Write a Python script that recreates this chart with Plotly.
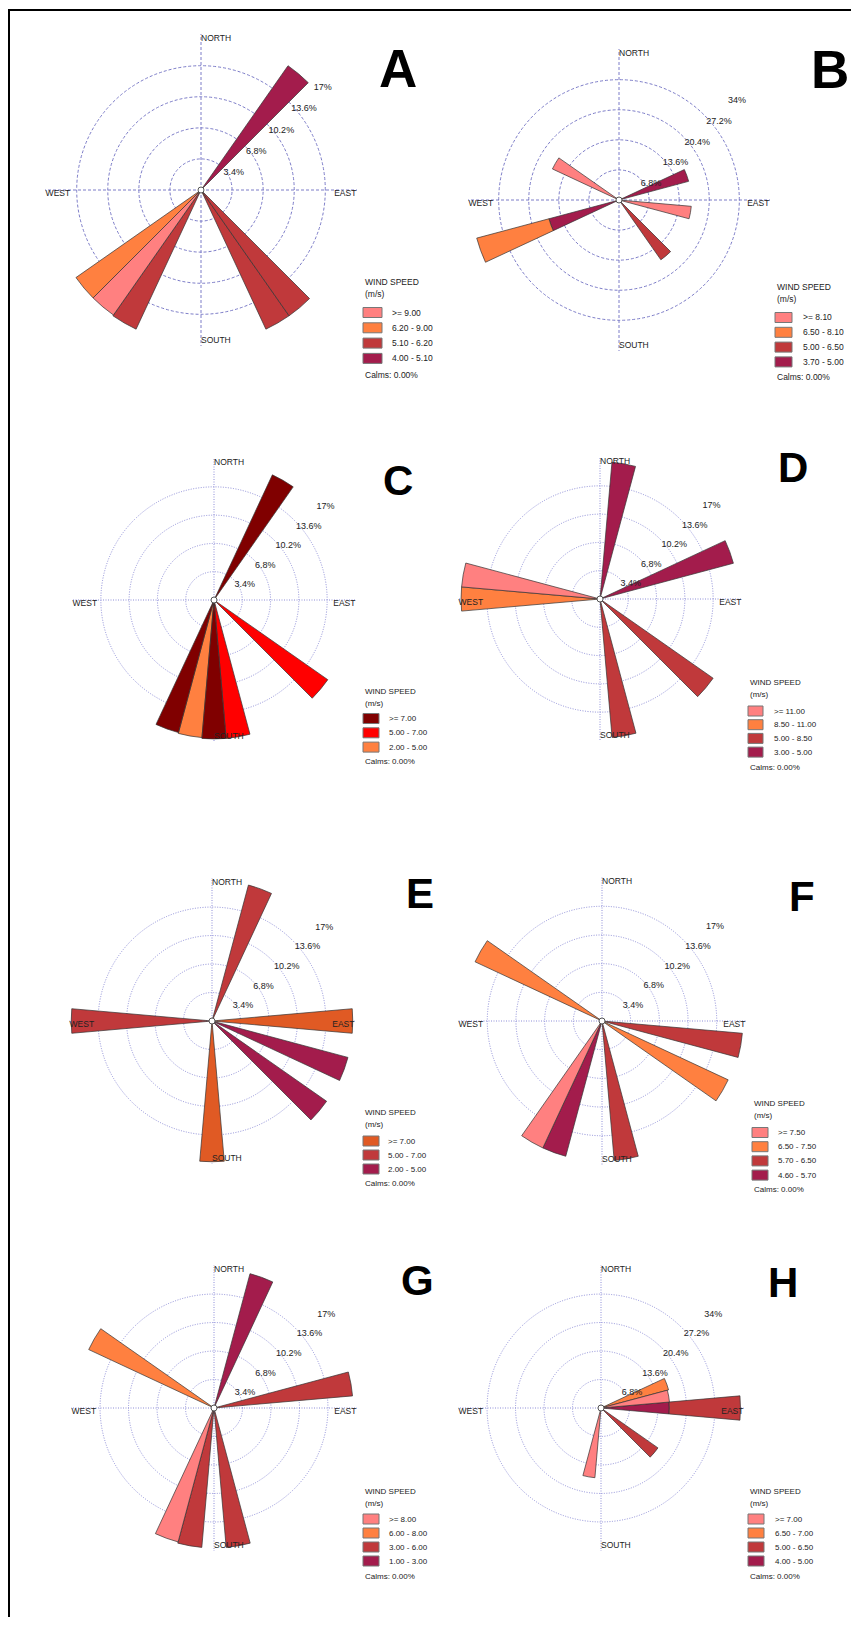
import plotly.graph_objects as go

# page is offset by the browser's 8px body margin; figure sized to fit the window
OFF = 8
FW, FH = 843, 1609


def px(x):
    return (x - OFF) / FW


def py(y):
    return 1 - (y - OFF) / FH


# ---------------- data (percent of observations per 10-degree sector) ----------------
CARDINALS = ["NORTH", "EAST", "SOUTH", "WEST"]
CARD_THETA = [0, 90, 180, 270]

TICKS_17 = [3.4, 6.8, 10.2, 13.6, 17]
TICKTEXT_17 = ["3.4%", "6.8%", "10.2%", "13.6%", "17%"]
TICKS_34 = [6.8, 13.6, 20.4, 27.2, 34]
TICKTEXT_34 = ["6.8%", "13.6%", "20.4%", "27.2%", "34%"]

# classes are listed as in the legend (highest speed first)
A_labels = [">= 9.00", "6.20 - 9.00", "5.10 - 6.20", "4.00 - 5.10"]
A_theta = [[220], [230], [210, 150, 140], [40]]
A_pct = [[16.7], [16.7], [16.8, 16.8, 16.8], [16.6]]

B_labels = [">= 8.10", "6.50 - 8.10", "5.00 - 6.50", "3.70 - 5.00"]
B_theta = [[300, 100], [250], [140], [250, 70]]
B_pct = [[16.6, 16.4], [16.9], [16.5], [16.4, 16.3]]

C_labels = [">= 7.00", "5.00 - 7.00", "2.00 - 5.00"]
C_theta = [[30, 200, 180], [130, 170], [190]]
C_pct = [[16.6, 16.5, 16.7], [16.7, 16.7], [16.6]]

D_labels = [">= 11.00", "8.50 - 11.00", "5.00 - 8.50", "3.00 - 5.00"]
D_theta = [[280], [270], [130, 170], [10, 70]]
D_pct = [[16.7], [16.7], [16.6, 16.7], [16.5, 16.6]]

E_labels = [">= 7.00", "5.00 - 7.00", "2.00 - 5.00"]
E_theta = [[90, 180], [20, 270], [110, 130]]
E_pct = [[16.8, 16.8], [16.8, 16.8], [16.8, 16.7]]

F_labels = [">= 7.50", "6.50 - 7.50", "5.70 - 6.50", "4.60 - 5.70"]
F_theta = [[210], [300, 120], [100, 170], [200]]
F_pct = [[16.6], [16.6, 16.5], [16.7, 16.6], [16.6]]

G_labels = [">= 8.00", "6.00 - 8.00", "3.00 - 6.00", "1.00 - 3.00"]
G_theta = [[200], [300], [80, 190, 170], [20]]
G_pct = [[16.55], [16.5], [16.6, 16.7, 16.7], [16.6]]

H_labels = [">= 7.00", "6.50 - 7.00", "5.00 - 6.50", "4.00 - 5.00"]
H_theta = [[80, 190], [70], [90, 130], [90]]
H_pct = [[16.4, 16.7], [16.7], [17.0, 16.6], [16.3]]

# ---------------- styles ----------------
PINK, ORANGE, RED, MAGENTA = "#FF8080", "#FF8040", "#C0393B", "#A31C4C"
C_colors = ["#800000", "#FF0000", "#FF8040"]
E_colors = ["#E05A24", "#C0393B", "#A31C4C"]
STD4 = [PINK, ORANGE, RED, MAGENTA]

panels = [
    dict(letter="A", labels=A_labels, colors=STD4, theta=A_theta, pct=A_pct, rmax=17,
         ticks=TICKS_17, tt=TICKTEXT_17, c=(201, 190, 156),
         leg=dict(x=363, ty=282, r0=312.5, step=15.3, calm=375, sw=19, tx=390, fs=8.5),
         let=(398, 68), lsize=53, dash="3px,2px", grid="#7c7cc8"),
    dict(letter="B", labels=B_labels, colors=STD4, theta=B_theta, pct=B_pct, rmax=34,
         ticks=TICKS_34, tt=TICKTEXT_34, c=(619, 200, 151),
         leg=dict(x=775, ty=287, r0=317.5, step=14.8, calm=377, sw=17, tx=801, fs=8.5),
         let=(830, 70), lsize=53, dash="3px,2px", grid="#7c7cc8"),
    dict(letter="C", labels=C_labels, colors=C_colors, theta=C_theta, pct=C_pct, rmax=17,
         ticks=TICKS_17, tt=TICKTEXT_17, c=(214, 600, 142),
         leg=dict(x=363, ty=691, r0=718.5, step=14.3, calm=761, sw=16, tx=387, fs=8),
         let=(398, 480), lsize=42, dash="1px,1.5px", grid="#8e8ed8"),
    dict(letter="D", labels=D_labels, colors=STD4, theta=D_theta, pct=D_pct, rmax=17,
         ticks=TICKS_17, tt=TICKTEXT_17, c=(600, 599, 142),
         leg=dict(x=748, ty=682, r0=711, step=13.7, calm=767, sw=15, tx=772, fs=8),
         let=(793, 467), lsize=42, dash="1px,1.5px", grid="#8e8ed8"),
    dict(letter="E", labels=E_labels, colors=E_colors, theta=E_theta, pct=E_pct, rmax=17,
         ticks=TICKS_17, tt=TICKTEXT_17, c=(212, 1021, 143),
         leg=dict(x=363, ty=1112, r0=1141, step=14, calm=1183, sw=16, tx=386, fs=8),
         let=(420, 894), lsize=42, dash="1px,1.5px", grid="#8e8ed8"),
    dict(letter="F", labels=F_labels, colors=STD4, theta=F_theta, pct=F_pct, rmax=17,
         ticks=TICKS_17, tt=TICKTEXT_17, c=(602, 1021, 144),
         leg=dict(x=752, ty=1103, r0=1132.5, step=14.2, calm=1189, sw=16, tx=776, fs=8),
         let=(802, 896), lsize=42, dash="1px,1.5px", grid="#8e8ed8"),
    dict(letter="G", labels=G_labels, colors=STD4, theta=G_theta, pct=G_pct, rmax=17,
         ticks=TICKS_17, tt=TICKTEXT_17, c=(214, 1408, 143),
         leg=dict(x=363, ty=1491, r0=1519, step=14, calm=1576, sw=16, tx=387, fs=8),
         let=(417, 1280), lsize=42, dash="1px,1.5px", grid="#8e8ed8"),
    dict(letter="H", labels=H_labels, colors=STD4, theta=H_theta, pct=H_pct, rmax=34,
         ticks=TICKS_34, tt=TICKTEXT_34, c=(601, 1408, 143),
         leg=dict(x=748, ty=1491, r0=1519, step=14, calm=1576, sw=16, tx=773, fs=8),
         let=(783, 1282), lsize=42, dash="1px,1.5px", grid="#8e8ed8"),
]

FONT = "Liberation Sans, Arial, sans-serif"
fig = go.Figure()
layout = dict(width=FW, height=FH, margin=dict(l=0, r=0, t=0, b=0),
              paper_bgcolor="white", plot_bgcolor="white", showlegend=False,
              font=dict(family=FONT, color="#222"))
annotations = []
shapes = []


def ann(x, y, text, size, xanchor="left", color="#222", bold=False):
    annotations.append(dict(x=px(x), y=py(y), xref="paper", yref="paper",
                            text=("<b>%s</b>" % text) if bold else text,
                            showarrow=False, xanchor=xanchor, yanchor="middle",
                            font=dict(size=size, color=color, family=FONT)))


for i, p in enumerate(panels):
    pid = "polar" if i == 0 else f"polar{i + 1}"
    n = len(p["labels"])
    # lowest speed class first so it is stacked innermost
    for k in reversed(range(n)):
        fig.add_trace(go.Barpolar(
            r=p["pct"][k], theta=p["theta"][k], width=[10] * len(p["theta"][k]),
            name=p["labels"][k], subplot=pid,
            marker=dict(color=p["colors"][k], line=dict(color="#333333", width=0.7)),
            hoverinfo="skip"))
    # percentage ring labels (horizontal, placed along the north-east ray)
    fig.add_trace(go.Scatterpolar(
        r=p["ticks"], theta=[46.5] * len(p["ticks"]), mode="text", text=p["tt"],
        textposition="bottom right", textfont=dict(size=9, color="#222"),
        subplot=pid, showlegend=False, hoverinfo="skip"))
    # compass labels just inside the outer ring
    fig.add_trace(go.Scatterpolar(
        r=[p["rmax"]] * 4, theta=CARD_THETA, mode="text", text=CARDINALS,
        textposition=["bottom right", "bottom left", "top right", "bottom right"],
        textfont=dict(size=8.5, color="#222"), subplot=pid, showlegend=False, hoverinfo="skip"))
    fig.add_trace(go.Scatterpolar(
        r=[0], theta=[0], mode="markers",
        marker=dict(size=6, color="white", line=dict(color="#555", width=1)),
        subplot=pid, showlegend=False, hoverinfo="skip"))

    cx, cy, rr = p["c"]
    layout[pid] = dict(
        domain=dict(x=[px(cx - rr), px(cx + rr)], y=[py(cy + rr), py(cy - rr)]),
        bgcolor="rgba(0,0,0,0)", barmode="stack", bargap=0,
        radialaxis=dict(range=[0, p["rmax"] * 1.004], tickvals=p["ticks"], showticklabels=False,
                        showline=False, ticks="",
                        gridcolor=p["grid"], griddash=p["dash"], gridwidth=1, layer="below traces"),
        angularaxis=dict(rotation=90, direction="clockwise", tickvals=CARD_THETA,
                         showticklabels=False, ticks="", gridcolor=p["grid"], griddash=p["dash"],
                         gridwidth=1, showline=False, layer="below traces"))

    # legend block
    L = p["leg"]
    ann(L["x"], L["ty"], "WIND SPEED", L["fs"])
    ann(L["x"], L["ty"] + 12, "(m/s)", L["fs"])
    for k in range(n):
        yy = L["r0"] + k * L["step"]
        shapes.append(dict(type="rect", xref="paper", yref="paper",
                           x0=px(L["x"]), x1=px(L["x"] + L["sw"]),
                           y0=py(yy + 5), y1=py(yy - 5),
                           fillcolor=p["colors"][k], line=dict(color="#777", width=1)))
        ann(L["tx"], yy, p["labels"][k], L["fs"])
    ann(L["x"], L["calm"], "Calms: 0.00%", L["fs"])

    tx, ty = p["let"]
    ann(tx, ty, p["letter"], p["lsize"], xanchor="center", color="black", bold=True)

# border (top and left edges of the frame)
shapes.append(dict(type="line", xref="paper", yref="paper", x0=0, x1=1, y0=py(10), y1=py(10),
                   line=dict(color="black", width=2.2)))
shapes.append(dict(type="line", xref="paper", yref="paper", x0=px(9), x1=px(9), y0=0, y1=py(9),
                   line=dict(color="black", width=2)))

layout["annotations"] = annotations
layout["shapes"] = shapes
fig.update_layout(**layout)
fig.write_html("out.html")
